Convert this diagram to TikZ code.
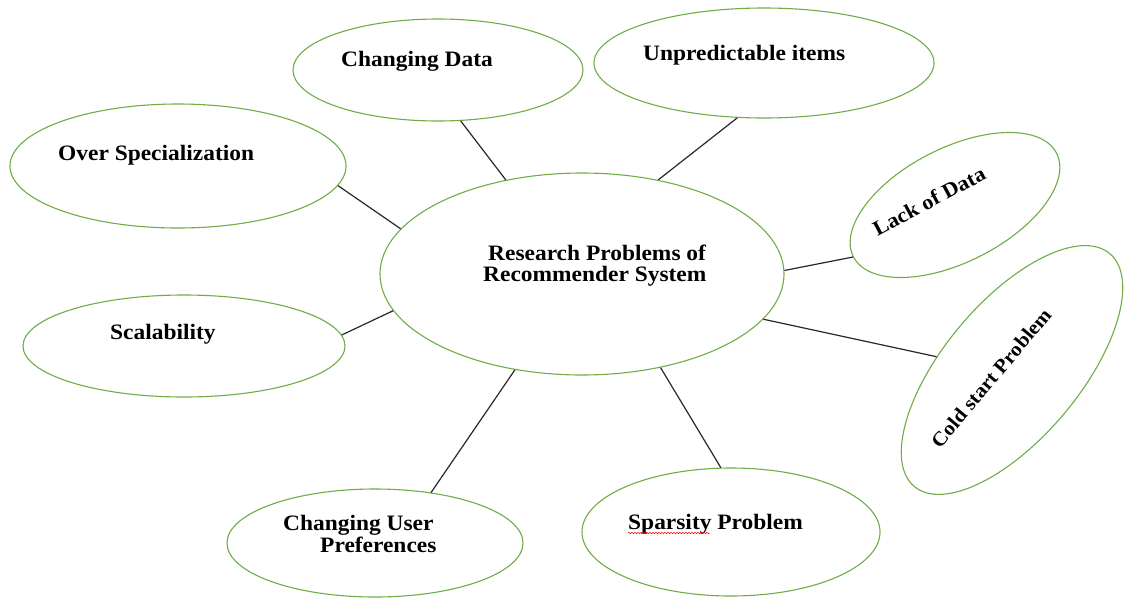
\documentclass[tikz,border=0pt]{standalone}
\usepackage{fontspec}
\setmainfont{Liberation Serif}[FakeStretch=1.065]
\usetikzlibrary{shapes.geometric,decorations.pathmorphing}
\definecolor{ringgreen}{RGB}{112,173,71}
\definecolor{linkgray}{RGB}{40,40,40}
\tikzset{
  bubble/.style={ellipse, draw=ringgreen, line width=1.1pt, inner sep=0pt, fill=white},
  lbl/.style={font=\fontsize{22}{21}\selectfont\bfseries, inner sep=0pt, text=black},
  lblsmall/.style={font=\fontsize{21}{21}\selectfont\bfseries, inner sep=0pt, text=black},
  lbltiny/.style={font=\fontsize{20}{20}\selectfont\bfseries, inner sep=0pt, text=black},
  link/.style={draw=linkgray, line width=1.2pt},
  squig/.style={draw=red, line width=0.5pt, decorate, decoration={snake, amplitude=0.7pt, segment length=3pt}}
}
\begin{document}
\begin{tikzpicture}[x=1pt,y=-1pt]
\useasboundingbox[fill=white] (0,0) rectangle (1126,598);
% bubbles
\node[bubble, minimum width=404pt, minimum height=202pt] (main) at (582,274) {};
\node[bubble, minimum width=290pt, minimum height=102pt] (cdata) at (438,70) {};
\node[bubble, minimum width=340pt, minimum height=110pt] (unpred) at (764,63) {};
\node[bubble, minimum width=336pt, minimum height=124pt] (over) at (178,166) {};
\node[bubble, minimum width=322pt, minimum height=102pt] (scal) at (184,346) {};
\node[bubble, minimum width=296pt, minimum height=108pt] (cup) at (375,543) {};
\node[bubble, minimum width=298pt, minimum height=128pt] (spars) at (731,532) {};
\node[bubble, rotate=27, minimum width=228pt, minimum height=114pt] (lack) at (955,205) {};
\node[bubble, rotate=50, minimum width=304pt, minimum height=136pt] (cold) at (1012,370) {};
% connectors
\draw[link] (main.129) -- (cdata.-66);
\draw[link] (main.51) -- (unpred.244);
\draw[link] (main.166.5) -- (over.-7.5);
\draw[link] (main.191) -- (scal.4);
\draw[link] (main.235) -- (cup.42);
\draw[link] (main.310) -- (spars.99);
\draw[link] (main.1) -- (lack.180);
\draw[link] (main.346) -- (cold.120);
% labels
\node[lbl, anchor=base west] (tcd) at (341,66) {Changing Data};
\node[lbl, anchor=base west] (tun) at (643,60) {Unpredictable items};
\node[lbl, anchor=base west] (tov) at (58,160) {Over Specialization};
\node[lbl, anchor=base west] (tm1) at (488,260) {Research Problems of};
\node[lbl, anchor=base west] (tm2) at (483,281) {Recommender System};
\node[lbl, anchor=base west] (tsc) at (110,339) {Scalability};
\node[lbl, anchor=base west] (tcu1) at (283,530) {Changing User};
\node[lbl, anchor=base west] (tcu2) at (320,552) {Preferences};
\node[lbl, anchor=base west] (tsp) at (628,529) {Sparsity Problem};
\node[lblsmall, rotate=28] (tla) at (929,201) {Lack of Data};
\node[lbltiny, rotate=50] (tco) at (991,378) {Cold start Problem};
\draw[squig] ([yshift=-4pt]tsp.base west) -- ++(82,0);
\end{tikzpicture}
\end{document}
